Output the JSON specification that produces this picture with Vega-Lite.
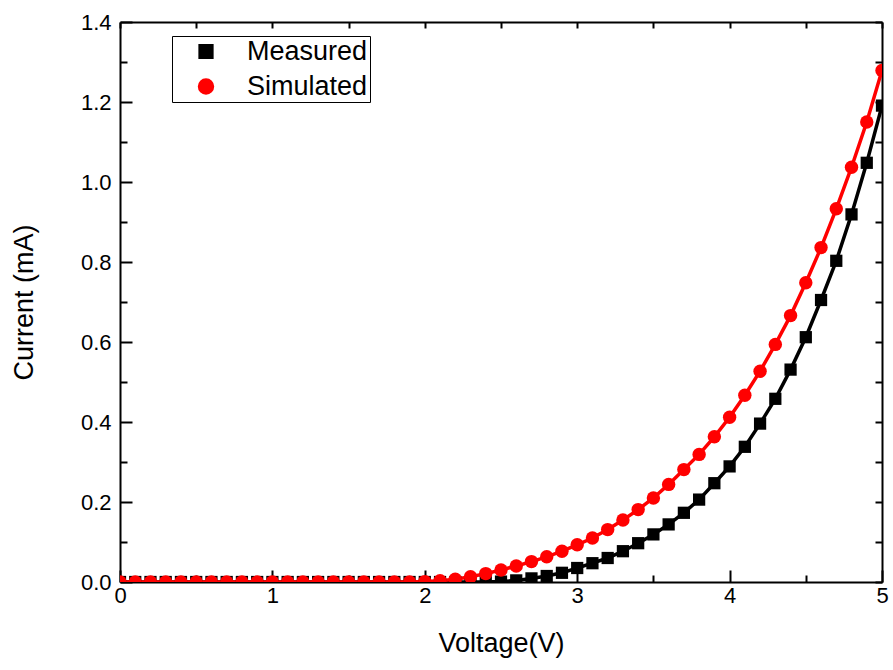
{
  "$schema": "https://vega.github.io/schema/vega-lite/v6.json",
  "width": 762,
  "height": 560,
  "autosize": {"type": "none"},
  "padding": {"left": 120, "top": 22, "right": 11, "bottom": 88},
  "background": "white",
  "config": {
    "view": {"stroke": null},
    "font": "Liberation Sans",
    "axis": {
      "grid": false,
      "domainColor": "black",
      "domainWidth": 2,
      "tickColor": "black",
      "tickWidth": 2,
      "labelColor": "black",
      "labelFont": "Liberation Sans",
      "labelFontSize": 22,
      "labelFlush": false,
      "titleColor": "black",
      "titleFont": "Liberation Sans",
      "titleFontSize": 27,
      "titleFontWeight": "normal"
    }
  },
  "data": {
    "values": [
      {"V": 0.0, "I": 0, "series": "Measured"}, {"V": 0.1, "I": 0, "series": "Measured"}, {"V": 0.2, "I": 0, "series": "Measured"}, {"V": 0.3, "I": 0, "series": "Measured"}, {"V": 0.4, "I": 0, "series": "Measured"},
      {"V": 0.5, "I": 0, "series": "Measured"}, {"V": 0.6, "I": 0, "series": "Measured"}, {"V": 0.7, "I": 0, "series": "Measured"}, {"V": 0.8, "I": 0, "series": "Measured"}, {"V": 0.9, "I": 0, "series": "Measured"},
      {"V": 1.0, "I": 0, "series": "Measured"}, {"V": 1.1, "I": 0, "series": "Measured"}, {"V": 1.2, "I": 0, "series": "Measured"}, {"V": 1.3, "I": 0, "series": "Measured"}, {"V": 1.4, "I": 0, "series": "Measured"},
      {"V": 1.5, "I": 0, "series": "Measured"}, {"V": 1.6, "I": 0, "series": "Measured"}, {"V": 1.7, "I": 0, "series": "Measured"}, {"V": 1.8, "I": 0, "series": "Measured"}, {"V": 1.9, "I": 0, "series": "Measured"},
      {"V": 2.0, "I": 0, "series": "Measured"}, {"V": 2.1, "I": 0, "series": "Measured"}, {"V": 2.2, "I": 0, "series": "Measured"}, {"V": 2.3, "I": 0, "series": "Measured"}, {"V": 2.4, "I": 0, "series": "Measured"},
      {"V": 2.5, "I": 0.001, "series": "Measured"}, {"V": 2.6, "I": 0.004, "series": "Measured"}, {"V": 2.7, "I": 0.009, "series": "Measured"}, {"V": 2.8, "I": 0.015, "series": "Measured"}, {"V": 2.9, "I": 0.023, "series": "Measured"},
      {"V": 3.0, "I": 0.035, "series": "Measured"}, {"V": 3.1, "I": 0.047, "series": "Measured"}, {"V": 3.2, "I": 0.06, "series": "Measured"}, {"V": 3.3, "I": 0.077, "series": "Measured"}, {"V": 3.4, "I": 0.097, "series": "Measured"},
      {"V": 3.5, "I": 0.119, "series": "Measured"}, {"V": 3.6, "I": 0.144, "series": "Measured"}, {"V": 3.7, "I": 0.173, "series": "Measured"}, {"V": 3.8, "I": 0.206, "series": "Measured"}, {"V": 3.9, "I": 0.247, "series": "Measured"},
      {"V": 4.0, "I": 0.289, "series": "Measured"}, {"V": 4.1, "I": 0.338, "series": "Measured"}, {"V": 4.2, "I": 0.396, "series": "Measured"}, {"V": 4.3, "I": 0.458, "series": "Measured"}, {"V": 4.4, "I": 0.531, "series": "Measured"},
      {"V": 4.5, "I": 0.612, "series": "Measured"}, {"V": 4.6, "I": 0.705, "series": "Measured"}, {"V": 4.7, "I": 0.803, "series": "Measured"}, {"V": 4.8, "I": 0.919, "series": "Measured"}, {"V": 4.9, "I": 1.048, "series": "Measured"},
      {"V": 5.0, "I": 1.191, "series": "Measured"},
      {"V": 0.0, "I": 0, "series": "Simulated"}, {"V": 0.1, "I": 0, "series": "Simulated"}, {"V": 0.2, "I": 0, "series": "Simulated"}, {"V": 0.3, "I": 0, "series": "Simulated"}, {"V": 0.4, "I": 0, "series": "Simulated"},
      {"V": 0.5, "I": 0, "series": "Simulated"}, {"V": 0.6, "I": 0, "series": "Simulated"}, {"V": 0.7, "I": 0, "series": "Simulated"}, {"V": 0.8, "I": 0, "series": "Simulated"}, {"V": 0.9, "I": 0, "series": "Simulated"},
      {"V": 1.0, "I": 0, "series": "Simulated"}, {"V": 1.1, "I": 0, "series": "Simulated"}, {"V": 1.2, "I": 0, "series": "Simulated"}, {"V": 1.3, "I": 0, "series": "Simulated"}, {"V": 1.4, "I": 0, "series": "Simulated"},
      {"V": 1.5, "I": 0, "series": "Simulated"}, {"V": 1.6, "I": 0, "series": "Simulated"}, {"V": 1.7, "I": 0, "series": "Simulated"}, {"V": 1.8, "I": 0, "series": "Simulated"}, {"V": 1.9, "I": 0, "series": "Simulated"},
      {"V": 2.0, "I": 0.001, "series": "Simulated"}, {"V": 2.1, "I": 0.003, "series": "Simulated"}, {"V": 2.2, "I": 0.007, "series": "Simulated"}, {"V": 2.3, "I": 0.013, "series": "Simulated"}, {"V": 2.4, "I": 0.021, "series": "Simulated"},
      {"V": 2.5, "I": 0.03, "series": "Simulated"}, {"V": 2.6, "I": 0.04, "series": "Simulated"}, {"V": 2.7, "I": 0.051, "series": "Simulated"}, {"V": 2.8, "I": 0.063, "series": "Simulated"}, {"V": 2.9, "I": 0.077, "series": "Simulated"},
      {"V": 3.0, "I": 0.093, "series": "Simulated"}, {"V": 3.1, "I": 0.11, "series": "Simulated"}, {"V": 3.2, "I": 0.131, "series": "Simulated"}, {"V": 3.3, "I": 0.155, "series": "Simulated"}, {"V": 3.4, "I": 0.181, "series": "Simulated"},
      {"V": 3.5, "I": 0.21, "series": "Simulated"}, {"V": 3.6, "I": 0.244, "series": "Simulated"}, {"V": 3.7, "I": 0.281, "series": "Simulated"}, {"V": 3.8, "I": 0.319, "series": "Simulated"}, {"V": 3.9, "I": 0.363, "series": "Simulated"},
      {"V": 4.0, "I": 0.412, "series": "Simulated"}, {"V": 4.1, "I": 0.467, "series": "Simulated"}, {"V": 4.2, "I": 0.527, "series": "Simulated"}, {"V": 4.3, "I": 0.594, "series": "Simulated"}, {"V": 4.4, "I": 0.666, "series": "Simulated"},
      {"V": 4.5, "I": 0.748, "series": "Simulated"}, {"V": 4.6, "I": 0.836, "series": "Simulated"}, {"V": 4.7, "I": 0.933, "series": "Simulated"}, {"V": 4.8, "I": 1.037, "series": "Simulated"}, {"V": 4.9, "I": 1.15, "series": "Simulated"},
      {"V": 5.0, "I": 1.279, "series": "Simulated"}
    ]
  },
  "layer": [
    {
      "mark": {"type": "point", "opacity": 0, "clip": true},
      "encoding": {
        "x": {"field": "V", "type": "quantitative", "scale": {"domain": [0, 5], "nice": false, "zero": false},
          "axis": {"orient": "bottom", "values": [0.5, 1.5, 2.5, 3.5, 4.5], "tickSize": -7, "labels": false, "domain": false, "title": null}},
        "y": {"field": "I", "type": "quantitative", "scale": {"domain": [0, 1.4], "nice": false, "zero": false},
          "axis": {"orient": "left", "values": [0.1, 0.3, 0.5, 0.7, 0.9, 1.1, 1.3], "tickSize": -7, "labels": false, "domain": false, "title": null}}
      }
    },
    {
      "mark": {"type": "line", "strokeWidth": 3.5, "clip": true},
      "encoding": {
        "x": {"field": "V", "type": "quantitative",
          "axis": {"orient": "bottom", "values": [0, 1, 2, 3, 4, 5], "tickSize": -12, "labelPadding": 15, "title": "Voltage(V)", "titlePadding": 24}},
        "y": {"field": "I", "type": "quantitative",
          "axis": {"orient": "left", "values": [0, 0.2, 0.4, 0.6, 0.8, 1.0, 1.2, 1.4], "format": ".1f", "tickSize": -12, "labelPadding": 21, "title": "Current (mA)", "titlePadding": 42}},
        "color": {"field": "series", "type": "nominal", "scale": {"domain": ["Measured", "Simulated"], "range": ["#000000", "#ff0000"]}}
      }
    },
    {
      "mark": {"type": "point", "filled": true, "opacity": 1, "clip": true},
      "encoding": {
        "x": {"field": "V", "type": "quantitative",
          "axis": {"orient": "top", "values": [0, 0.5, 1, 1.5, 2, 2.5, 3, 3.5, 4, 4.5, 5], "tickSize": -6, "labels": false, "title": null}},
        "y": {"field": "I", "type": "quantitative",
          "axis": {"orient": "right", "values": [0, 0.1, 0.2, 0.3, 0.4, 0.5, 0.6, 0.7, 0.8, 0.9, 1.0, 1.1, 1.2, 1.3, 1.4], "tickSize": -7, "labels": false, "title": null}},
        "size": {"field": "series", "type": "nominal", "scale": {"domain": ["Measured", "Simulated"], "range": [150, 180]}, "legend": null},
        "shape": {"field": "series", "type": "nominal", "scale": {"domain": ["Measured", "Simulated"], "range": ["square", "circle"]}},
        "color": {"field": "series", "type": "nominal", "scale": {"domain": ["Measured", "Simulated"], "range": ["#000000", "#ff0000"]},
          "legend": {
            "title": null,
            "orient": "none",
            "legendX": 52,
            "legendY": 14,
            "strokeColor": "black",
            "fillColor": "white",
            "padding": 2,
            "rowPadding": 7,
            "labelFont": "Liberation Sans",
            "labelFontSize": 27,
            "labelColor": "black",
            "symbolSize": 144,
            "symbolStrokeWidth": 3,
            "symbolOffset": 18.5,
            "labelOffset": 27.5
          }
        }
      }
    }
  ],
  "resolve": {"axis": {"x": "independent", "y": "independent"}}
}
